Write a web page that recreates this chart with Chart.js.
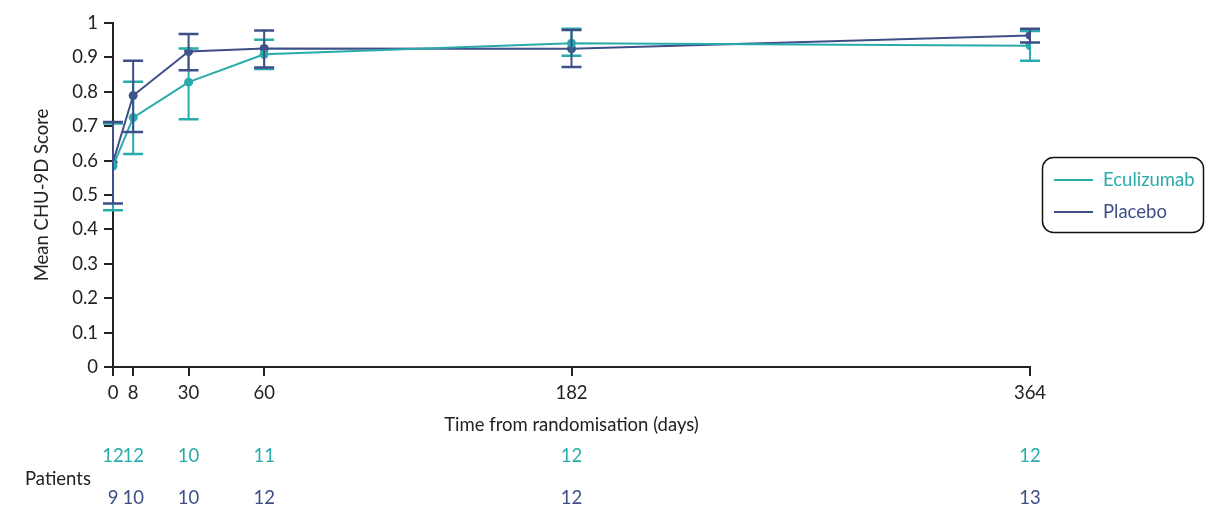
<!DOCTYPE html>
<html>
<head>
<meta charset="utf-8">
<script src="https://cdn.jsdelivr.net/npm/chart.js@4.4.1/dist/chart.umd.min.js"></script>
<style>
  html, body { margin: 0; padding: 0; background: #fff; }
  #wrap { width: 1206px; height: 508px; position: relative; }
</style>
</head>
<body>
<div id="wrap"><canvas id="myChart" width="1206" height="508"></canvas></div>
<script>
// data
var days = [0, 8, 30, 60, 182, 364];

var eculizumab = [0.584, 0.725, 0.828, 0.909, 0.941, 0.934];
var eculizumabLow = [0.456, 0.619, 0.720, 0.866, 0.905, 0.890];
var eculizumabHigh = [0.708, 0.829, 0.926, 0.951, 0.983, 0.977];

var placebo = [0.595, 0.789, 0.917, 0.926, 0.925, 0.964];
var placeboLow = [0.475, 0.683, 0.863, 0.871, 0.872, 0.943];
var placeboHigh = [0.712, 0.890, 0.968, 0.978, 0.980, 0.983];

var patientsEculizumab = [12, 12, 10, 11, 12, 12];
var patientsPlacebo = [9, 10, 10, 12, 12, 13];

var TEAL = '#2aabab';
var NAVY = '#3e4f88';
var FONT = 'Lato, "Open Sans", sans-serif';
var FSIZE = 18.5;

function toPoints(values) {
  return values.map(function (v, i) {
    return { x: days[i], y: v };
  });
}

// error bars, patient counts, axis titles and the legend box
var extras = {
  id: 'extras',
  afterDatasetsDraw: function (chart) {
    var ctx = chart.ctx;
    var xs = chart.scales.x;
    var ys = chart.scales.y;

    function bars(lows, highs, color) {
      ctx.save();
      ctx.strokeStyle = color;
      for (var i = 0; i < days.length; i++) {
        var px = xs.getPixelForValue(days[i]);
        var lo = ys.getPixelForValue(lows[i]);
        var hi = ys.getPixelForValue(highs[i]);
        ctx.lineWidth = 2;
        ctx.beginPath();
        ctx.moveTo(px, lo);
        ctx.lineTo(px, hi);
        ctx.stroke();
        ctx.lineWidth = 2.5;
        ctx.beginPath();
        ctx.moveTo(px - 10, lo);
        ctx.lineTo(px + 10, lo);
        ctx.moveTo(px - 10, hi);
        ctx.lineTo(px + 10, hi);
        ctx.stroke();
      }
      ctx.restore();
    }
    bars(eculizumabLow, eculizumabHigh, TEAL);
    bars(placeboLow, placeboHigh, NAVY);
  },
  afterDraw: function (chart) {
    var ctx = chart.ctx;
    var xs = chart.scales.x;
    var area = chart.chartArea;
    ctx.save();
    ctx.font = FSIZE + 'px ' + FONT;
    ctx.textBaseline = 'middle';

    // axis titles
    ctx.fillStyle = '#222';
    ctx.textAlign = 'center';
    ctx.fillText('Time from randomisation (days)', (area.left + area.right) / 2, 425);
    ctx.save();
    ctx.translate(42, (area.top + area.bottom) / 2);
    ctx.rotate(-Math.PI / 2);
    ctx.fillText('Mean CHU-9D Score', 0, 0);
    ctx.restore();

    // patients at risk
    ctx.textAlign = 'left';
    ctx.fillText('Patients', 25, 479);
    ctx.textAlign = 'center';
    for (var i = 0; i < days.length; i++) {
      var px = xs.getPixelForValue(days[i]);
      ctx.fillStyle = TEAL;
      ctx.fillText(String(patientsEculizumab[i]), px, 456);
      ctx.fillStyle = NAVY;
      ctx.fillText(String(patientsPlacebo[i]), px, 498);
    }

    // legend
    ctx.strokeStyle = '#111';
    ctx.lineWidth = 1.5;
    ctx.beginPath();
    ctx.roundRect(1042.5, 157.5, 161, 75, 11);
    ctx.stroke();
    var items = [['Eculizumab', TEAL, 180], ['Placebo', NAVY, 212]];
    ctx.textAlign = 'left';
    items.forEach(function (it) {
      ctx.strokeStyle = it[1];
      ctx.lineWidth = 2;
      ctx.beginPath();
      ctx.moveTo(1054, it[2]);
      ctx.lineTo(1093, it[2]);
      ctx.stroke();
      ctx.fillStyle = it[1];
      ctx.fillText(it[0], 1103, it[2]);
    });
    ctx.restore();
  }
};

var ctx = document.getElementById('myChart').getContext('2d');
var myChart = new Chart(ctx, {
  type: 'line',
  data: {
    datasets: [
      {
        label: 'Eculizumab',
        data: toPoints(eculizumab),
        borderColor: TEAL,
        backgroundColor: TEAL,
        borderWidth: 2,
        pointRadius: 4.5,
        pointBorderWidth: 0,
        tension: 0
      },
      {
        label: 'Placebo',
        data: toPoints(placebo),
        borderColor: NAVY,
        backgroundColor: NAVY,
        borderWidth: 2,
        pointRadius: 4.5,
        pointBorderWidth: 0,
        tension: 0
      }
    ]
  },
  options: {
    responsive: false,
    animation: false,
    layout: { padding: { top: 23, right: 176, bottom: 0, left: 0 } },
    plugins: {
      legend: { display: false },
      tooltip: { enabled: false }
    },
    scales: {
      x: {
        type: 'linear',
        min: 0,
        max: 364,
        afterBuildTicks: function (scale) {
          scale.ticks = days.map(function (d) { return { value: d }; });
        },
        afterFit: function (scale) { scale.height = 141; },
        grid: { drawOnChartArea: false, drawTicks: true, tickLength: 9, color: '#222', lineWidth: 2 },
        border: { display: true, color: '#222', width: 2 },
        ticks: {
          autoSkip: false,
          maxRotation: 0,
          color: '#222',
          padding: 6,
          font: { family: FONT, size: FSIZE }
        }
      },
      y: {
        min: 0,
        max: 1,
        afterFit: function (scale) { scale.width = 113; },
        grid: { drawOnChartArea: false, drawTicks: true, tickLength: 9, color: '#222', lineWidth: 2 },
        border: { display: true, color: '#222', width: 2 },
        ticks: {
          stepSize: 0.1,
          color: '#222',
          padding: 6,
          font: { family: FONT, size: FSIZE },
          callback: function (v) {
            return Math.round(v * 10) / 10;
          }
        }
      }
    }
  },
  plugins: [extras]
});
</script>
</body>
</html>
